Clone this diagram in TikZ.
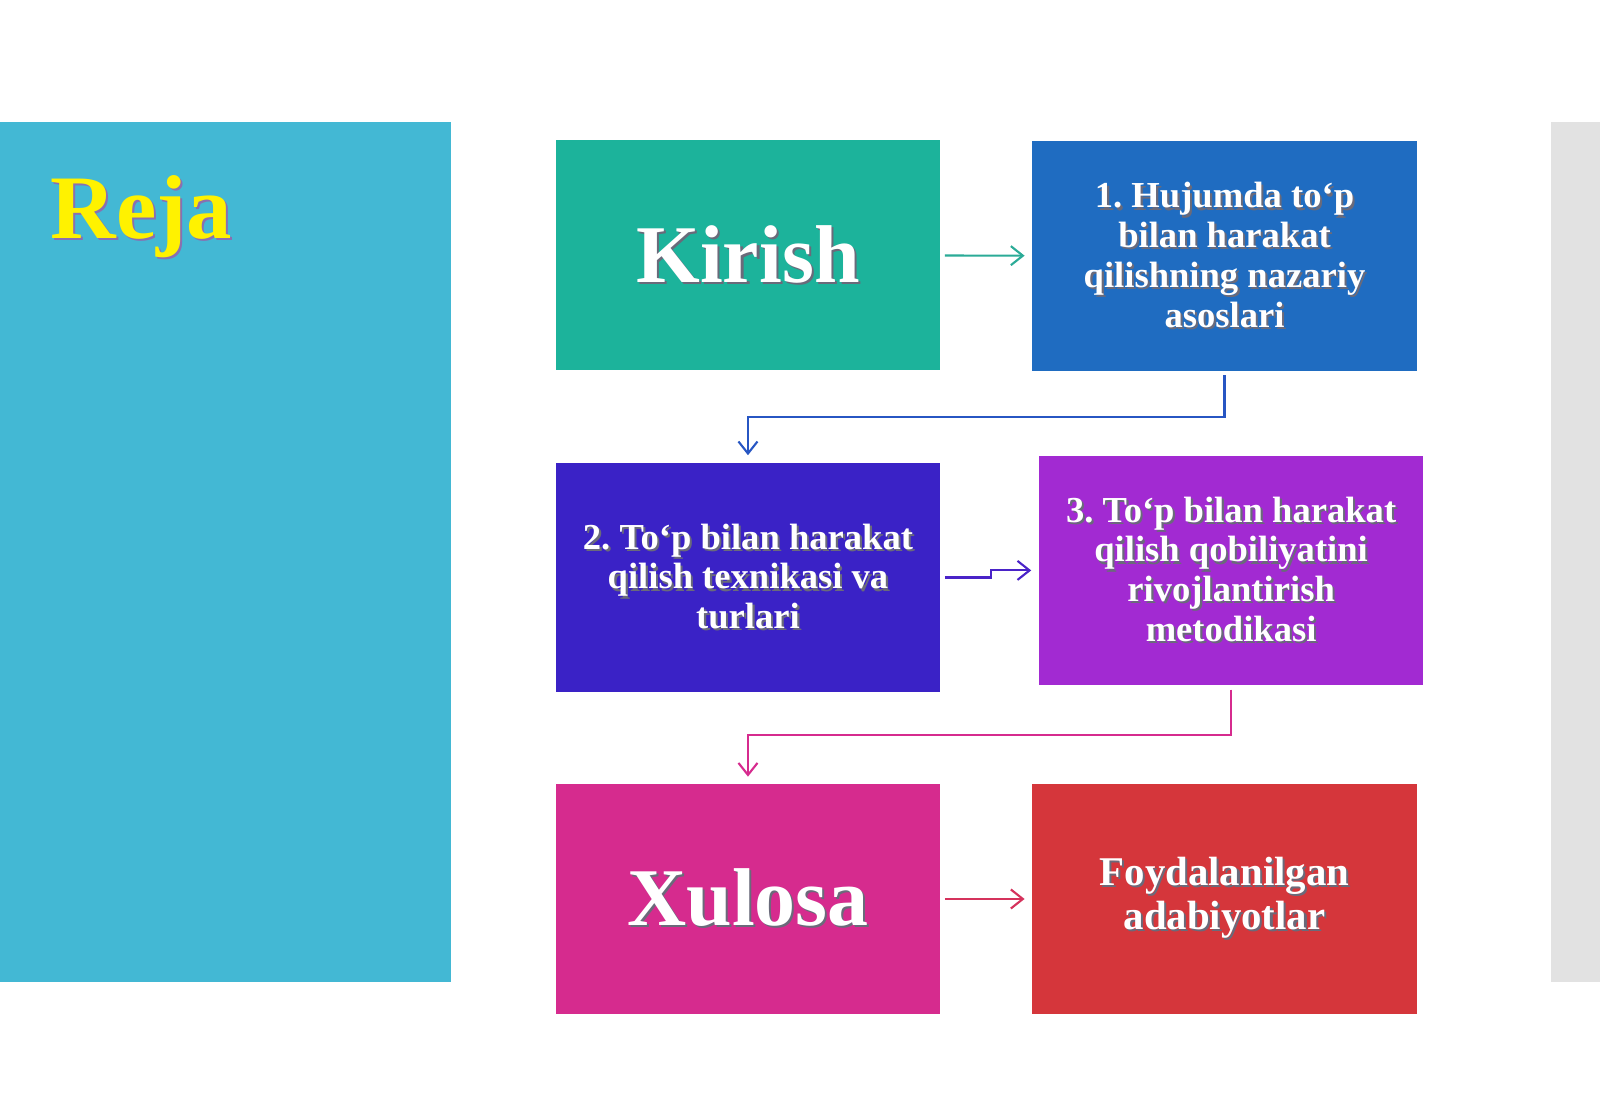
\documentclass[tikz,border=0pt]{standalone}
\usepackage{fontspec}
\setmainfont{Liberation Serif}
\usetikzlibrary{arrows.meta}
\definecolor{panelblue}{HTML}{43B8D4}
\definecolor{stripgray}{HTML}{E2E2E2}
\definecolor{tealbox}{HTML}{1CB39B}
\definecolor{bluebox}{HTML}{1F6CC1}
\definecolor{indigobox}{HTML}{3A22C6}
\definecolor{purplebox}{HTML}{A22AD2}
\definecolor{magentabox}{HTML}{D62B8E}
\definecolor{redbox}{HTML}{D5363B}
\definecolor{shadowgray}{HTML}{6A6A7A}
\definecolor{rejashadow}{HTML}{8A6FB0}
\newcommand\shtxt[2][shadowgray]{\leavevmode\rlap{\kern0.6pt\raisebox{-0.6pt}{\textcolor{#1}{#2}}}#2}
\tikzset{
  planbox/.style={minimum width=3.84cm,minimum height=2.29cm,inner sep=0pt,
                  text=white,font=\bfseries,align=center},
  bigtext/.style={font=\bfseries\fontsize{23.3}{27}\selectfont},
  smalltext/.style={font=\bfseries\fontsize{10.4}{11.3}\selectfont},
  link/.style={->,line width=0.6pt,shorten <=0.04cm,shorten >=0.07cm}
}
\frenchspacing

\begin{document}
\begin{tikzpicture}[x=0.0102cm,y=-0.0102cm,>={Straight Barb[length=1.2mm,width=1.9mm]}]
\useasboundingbox[fill=white] (0,0) rectangle (1568,1085);
  % side panels
  \fill[panelblue] (0,120) rectangle (442,962);
  \fill[stripgray] (1520,120) rectangle (1568,962);
  \node[anchor=base west,inner sep=0pt,text=yellow,font=\bfseries\fontsize{25.8}{30}\selectfont]
       (reja) at (49,234) {\shtxt[rejashadow]{Reja}};
  % boxes
  \node[planbox,fill=tealbox,bigtext] (kirish) at (733,250) {\shtxt{Kirish}};
  \node[planbox,fill=bluebox,smalltext] (hujum) at (1200,251)
       {\shtxt{1. Hujumda to‘p}\\\shtxt{bilan harakat}\\\shtxt{qilishning nazariy}\\\shtxt{asoslari}};
  \node[planbox,fill=indigobox,smalltext] (texnika) at (733,566)
       {\shtxt{2. To‘p bilan harakat}\\\shtxt{qilish texnikasi va}\\\shtxt{turlari}};
  \node[planbox,fill=purplebox,smalltext] (qobil) at (1206.5,559)
       {\shtxt{3. To‘p bilan harakat}\\\shtxt{qilish qobiliyatini}\\\shtxt{rivojlantirish}\\\shtxt{metodikasi}};
  \node[planbox,fill=magentabox,bigtext] (xulosa) at (733,881) {\shtxt{Xulosa}};
  \node[planbox,fill=redbox,font=\bfseries\fontsize{11.6}{12.4}\selectfont] (adab) at (1200,881)
       {\shtxt{Foydalanilgan}\\\shtxt{adabiyotlar}};
  % connectors
  \draw[link,color=tealbox!85!gray] (kirish) -- (hujum);
  \draw[link,color=bluebox!70!indigobox] (hujum.south) -- ++(0,45) -| (texnika.north);
  \draw[link,color=indigobox!85!purplebox] (texnika.east) -- ++(49,0) |- (qobil.west);
  \draw[link,color=magentabox] (qobil.south) -- ++(0,48) -| (xulosa.north);
  \draw[link,color=redbox!60!magentabox] (xulosa) -- (adab);
\end{tikzpicture}
\end{document}
